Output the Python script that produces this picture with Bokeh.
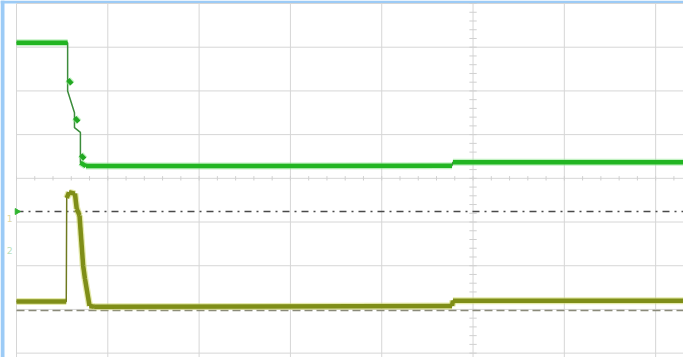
from bokeh.plotting import figure
from bokeh.models import Range1d
from bokeh.embed import file_html
from bokeh.resources import INLINE
from bokeh.core.properties import value
import numpy as np

# Time axis in graticule divisions, amplitude in vertical divisions (0 = bottom line)
ch2_t = [0.0, 0.56, 0.56, 0.635, 0.635, 0.70, 0.70, 0.76, 4.77, 4.78, 7.31]
ch2_v = [7.1, 7.1, 6.0, 5.5, 5.16, 5.05, 4.36, 4.28, 4.29, 4.37, 4.37]
# short ringing hooks on the falling steps of channel 2
ch2_hook_t = [0.562, 0.637, 0.702]
ch2_hook_v = [6.26, 5.39, 4.54]

ch1_t = [0.0, 0.545, 0.55, 0.575, 0.64, 0.66, 0.69, 0.73, 0.75, 0.80, 0.85, 4.77, 4.78, 7.31]
ch1_v = [1.18, 1.18, 3.55, 3.68, 3.65, 3.3, 3.15, 2.0, 1.7, 1.08, 1.06, 1.08, 1.2, 1.2]

trigger_level = 3.24
ch1_ground = 0.975
h_divs = list(range(0, 11))
v_divs = list(range(0, 9))

X0, X1 = -0.1752, 7.305
Y0, Y1 = -0.10, 8.069

p = figure(width=683, height=357, x_range=Range1d(X0, X1), y_range=Range1d(Y0, Y1),
           output_backend="svg", toolbar_location=None,
           x_axis_location=None, y_axis_location=None,
           min_border=0, min_border_left=0, min_border_right=0,
           min_border_top=0, min_border_bottom=0)
p.outline_line_color = None
p.border_fill_color = "white"
p.background_fill_color = "white"
p.grid.visible = False

# window frame strips (left and top)
p.quad(left=[X0, X0], right=[-0.1314, X1], bottom=[Y0, 8.0], top=[Y1, Y1],
       fill_color="#9ccbf6", line_color=None)

# graticule
p.segment(x0=h_divs, y0=[Y0] * len(h_divs), x1=h_divs, y1=[8.0] * len(h_divs),
          line_color="#d6d6d6", line_width=1)
p.segment(x0=[0] * len(v_divs), y0=v_divs, x1=[10] * len(v_divs), y1=v_divs,
          line_color="#d6d6d6", line_width=1)

# minor ticks on the centre axes
tx = np.arange(0, 10.01, 0.2)
p.segment(x0=tx, y0=[3.95] * len(tx), x1=tx, y1=[4.05] * len(tx), line_color="#d0d0d0", line_width=1)
ty = np.arange(0, 8.01, 0.2)
p.segment(x0=[4.96] * len(ty), y0=ty, x1=[5.04] * len(ty), y1=ty, line_color="#d0d0d0", line_width=1)

# trigger level and channel 1 ground reference
p.line([0, 7.31], [trigger_level, trigger_level], line_color="#4a4a4a", line_width=1.5, line_dash="7 5 2 5")
p.line([0, 7.31], [ch1_ground, ch1_ground], line_color="#8a8a7a", line_width=1.5, line_dash="8 4")


def plateaus(t, v, slope):
    """Segments of a trace that are not too steep; these carry the wide noise band."""
    x0, y0, x1, y1 = [], [], [], []
    for i in range(len(t) - 1):
        dt = t[i + 1] - t[i]
        if dt > 0 and abs(v[i + 1] - v[i]) / dt < slope:
            x0.append(t[i]); y0.append(v[i]); x1.append(t[i + 1]); y1.append(v[i + 1])
    return x0, y0, x1, y1


def draw_trace(t, v, slope, edge, band, core):
    x0, y0, x1, y1 = plateaus(t, v, slope)
    p.segment(x0=x0, y0=y0, x1=x1, y1=y1, line_color=edge, line_width=7, line_alpha=0.55)
    p.line(t, v, line_color=core, line_width=1.5)
    p.segment(x0=x0, y0=y0, x1=x1, y1=y1, line_color=band, line_width=4.5)


# channel 1 (olive) and channel 2 (green)
draw_trace(ch1_t, ch1_v, 40, "#cfd86a", "#7f8e18", "#6f7a20")
draw_trace(ch2_t, ch2_v, 1.5, "#8fe68f", "#22b522", "#3c8c3c")
hook_end = [t + 0.045 for t in ch2_hook_t]
p.segment(x0=ch2_hook_t, y0=ch2_hook_v, x1=hook_end, y1=[v - 0.1 for v in ch2_hook_v],
          line_color="#8fe68f", line_width=7, line_alpha=0.55)
p.segment(x0=ch2_hook_t, y0=ch2_hook_v, x1=hook_end, y1=[v - 0.1 for v in ch2_hook_v],
          line_color="#22a822", line_width=4.5)

# trigger marker and channel labels
p.scatter([0.005], [trigger_level], marker="triangle", angle=-1.5708, size=6, color="#2fb52f")
p.text([-0.075, -0.075], [3.07, 2.35], text=["1", "2"], text_color=["#d8cc88", "#a8d8a8"],
       text_font=value("DejaVu Sans"), text_font_size="7pt", text_align="center",
       text_baseline="middle", text_alpha=0.8)

open("out.html", "w").write(file_html(p, INLINE))
